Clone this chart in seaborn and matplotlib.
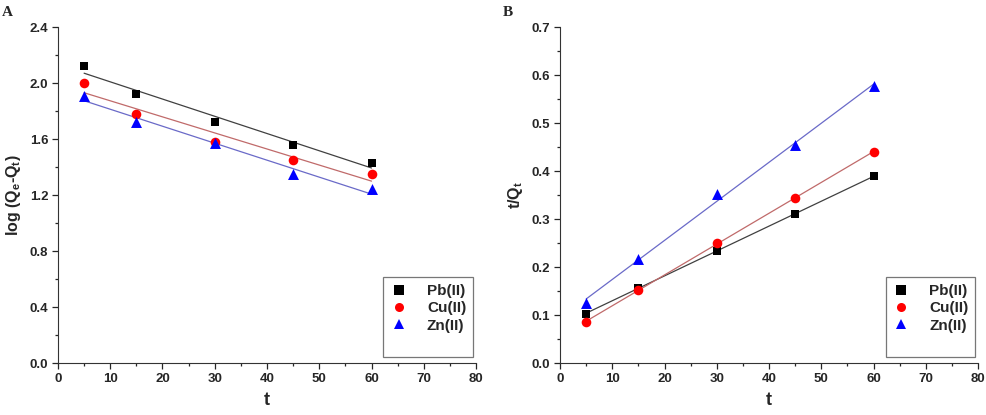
import numpy as np
import pandas as pd
import matplotlib
matplotlib.use("Agg")
import matplotlib.pyplot as plt
import seaborn as sns
from matplotlib.ticker import MultipleLocator
from matplotlib.lines import Line2D

# ---------------------------------- DATA ----------------------------------
t = [5, 15, 30, 45, 60]
metals = ["Pb(II)", "Cu(II)", "Zn(II)"]

# panel A: pseudo-first-order, log(Qe-Qt)
logq_pb = [2.12, 1.92, 1.72, 1.56, 1.43]
logq_cu = [2.00, 1.78, 1.58, 1.45, 1.35]
logq_zn = [1.91, 1.72, 1.57, 1.35, 1.24]

# panel B: pseudo-second-order, t/Qt
tq_pb = [0.103, 0.157, 0.233, 0.311, 0.389]
tq_cu = [0.086, 0.152, 0.249, 0.344, 0.440]
tq_zn = [0.125, 0.216, 0.353, 0.454, 0.577]

df_a = pd.DataFrame({"t": t * 3, "y": logq_pb + logq_cu + logq_zn,
                     "metal": np.repeat(metals, len(t))})
df_b = pd.DataFrame({"t": t * 3, "y": tq_pb + tq_cu + tq_zn,
                     "metal": np.repeat(metals, len(t))})

marker_colors = {"Pb(II)": "#000000", "Cu(II)": "#ff0000", "Zn(II)": "#0000ff"}
line_colors = {"Pb(II)": "#404040", "Cu(II)": "#c06a6a", "Zn(II)": "#6a6ac8"}
markers = {"Pb(II)": "s", "Cu(II)": "o", "Zn(II)": "^"}
sizes = {"Pb(II)": 40, "Cu(II)": 48, "Zn(II)": 62}

sns.set_style("ticks")
plt.rcParams["font.family"] = ["Liberation Sans", "DejaVu Sans"]
plt.rcParams["mathtext.default"] = "regular"

fig = plt.figure(figsize=(9.86, 4.15), dpi=100)
ax_a = fig.add_axes([0.0588, 0.1253, 0.424, 0.8096])
ax_b = fig.add_axes([0.568, 0.1253, 0.424, 0.8096])


def draw_panel(ax, df, ylim, major, minor, ylabel):
    for m in metals:
        sub = df[df["metal"] == m]
        sns.regplot(data=sub, x="t", y="y", ax=ax, ci=None, marker=markers[m],
                    scatter_kws={"color": marker_colors[m], "s": sizes[m], "linewidths": 0,
                                 "alpha": 1, "zorder": 3, "clip_on": False},
                    line_kws={"color": line_colors[m], "lw": 0.9, "zorder": 2})
    ax.set_xlim(0, 80)
    ax.set_ylim(*ylim)
    ax.xaxis.set_major_locator(MultipleLocator(10))
    ax.xaxis.set_minor_locator(MultipleLocator(5))
    ax.yaxis.set_major_locator(MultipleLocator(major))
    ax.yaxis.set_minor_locator(MultipleLocator(minor))
    ax.tick_params(which="major", length=4, width=0.9, labelsize=9.5, pad=3)
    ax.tick_params(which="minor", length=2.5, width=0.9)
    for lab in ax.get_xticklabels() + ax.get_yticklabels():
        lab.set_fontweight("bold")
    sns.despine(ax=ax)
    ax.spines["left"].set_color("#333333")
    ax.spines["bottom"].set_color("#333333")
    ax.set_xlabel("t", fontsize=13, fontweight="bold", labelpad=5)
    ax.set_ylabel(ylabel, fontsize=11.5, fontweight="bold", labelpad=5)

    handles = [Line2D([], [], ls="none", marker=markers[m], color=marker_colors[m],
                      markersize=6.5, markeredgewidth=0) for m in metals]
    handles.append(Line2D([], [], ls="none"))
    leg = ax.legend(handles, metals + [""], loc="lower right", frameon=True,
                    fancybox=False, prop={"weight": "bold", "size": 11},
                    handletextpad=1.3, labelspacing=0.22, borderpad=0.45,
                    handlelength=1.1, borderaxespad=0, bbox_to_anchor=(0.993, 0.018))
    leg.get_frame().set_edgecolor("#555555")
    leg.get_frame().set_linewidth(0.9)


draw_panel(ax_a, df_a, (0, 2.4), 0.4, 0.2, r"log (Q$_e$-Q$_t$)")
draw_panel(ax_b, df_b, (0, 0.7), 0.1, 0.05, r"t/Q$_t$")

fig.text(0.002, 0.985, "A", fontsize=11, fontweight="bold", family="Liberation Serif", va="top")
fig.text(0.51, 0.985, "B", fontsize=11, fontweight="bold", family="Liberation Serif", va="top")

fig.savefig("out.png", dpi=100)
